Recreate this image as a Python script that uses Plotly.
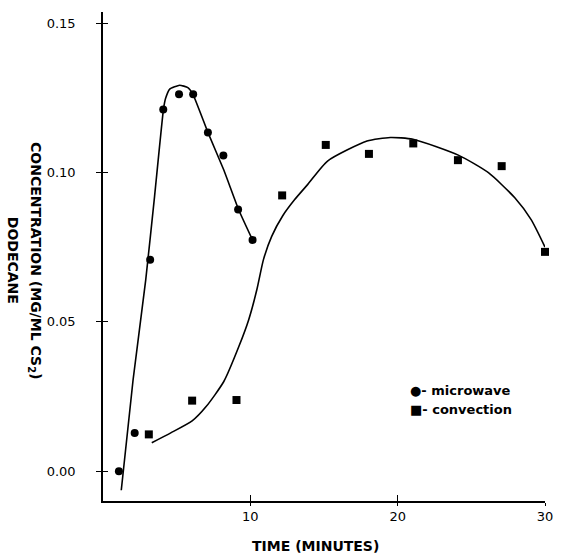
import plotly.graph_objects as go

# Measured data points
micro_time = [1.08, 2.15, 3.2, 4.09, 5.16, 6.12, 7.12, 8.17, 9.17, 10.15]
micro_conc = [0.000, 0.0128, 0.0708, 0.1211, 0.1262, 0.1262, 0.1134, 0.1057, 0.0876, 0.0774]

conv_time = [3.11, 6.05, 9.06, 12.16, 15.12, 18.05, 21.06, 24.09, 27.06, 30.0]
conv_conc = [0.0123, 0.0236, 0.0238, 0.0923, 0.1092, 0.1062, 0.1097, 0.1041, 0.1021, 0.0734]

# Hand-drawn fitted curves
micro_curve_t = [1.24, 2.04, 2.9, 3.5, 4.1, 4.25, 4.53, 5.2, 5.76, 6.1, 7.12, 8.2, 9.2, 10.15]
micro_curve_c = [-0.0064, 0.0305, 0.064, 0.092, 0.121, 0.1248, 0.1279, 0.1292, 0.1284, 0.1262,
                 0.1134, 0.1008, 0.0876, 0.0774]

conv_curve_t = [3.31, 4.6, 6.05, 7.0, 8.2, 9.22, 9.89, 10.44, 10.89, 11.45, 12.2, 13.01, 13.9, 15.24,
                17.92, 19.5, 21.04, 24.15, 26.16, 27.95, 29.06, 30.0]
conv_curve_c = [0.0095, 0.0128, 0.0168, 0.0216, 0.030, 0.0417, 0.0507, 0.0607, 0.0708, 0.0786,
                0.0855, 0.0909, 0.096, 0.1038, 0.1105, 0.1117, 0.1111, 0.1057, 0.0999, 0.0915,
                0.0842, 0.0750]

y_ticks = [0.0, 0.05, 0.10, 0.15]
y_tick_text = ["0.00", "0.05", "0.10", "0.15"]
x_ticks = [10, 20, 30]
x_tick_text = ["10", "20", "30"]

x_range = [0, 30]
y_range = [-0.0100, 0.1537]

fig = go.Figure()
fig.add_trace(go.Scatter(x=micro_curve_t, y=micro_curve_c, mode="lines",
                         line=dict(color="black", width=1.6, shape="spline", smoothing=0.4),
                         hoverinfo="skip", showlegend=False))
fig.add_trace(go.Scatter(x=conv_curve_t, y=conv_curve_c, mode="lines",
                         line=dict(color="black", width=1.6, shape="spline", smoothing=0.6),
                         hoverinfo="skip", showlegend=False, cliponaxis=False))
fig.add_trace(go.Scatter(x=micro_time, y=micro_conc, mode="markers", name="microwave",
                         marker=dict(symbol="circle", size=8, color="black"), showlegend=False,
                         cliponaxis=False))
fig.add_trace(go.Scatter(x=conv_time, y=conv_conc, mode="markers", name="convection",
                         marker=dict(symbol="square", size=8, color="black"), showlegend=False,
                         cliponaxis=False))

tick_font = dict(family="DejaVu Sans", size=13, color="black")

fig.update_layout(
    width=565, height=554,
    margin=dict(l=103, r=14, t=12, b=53),
    paper_bgcolor="white", plot_bgcolor="white",
    xaxis=dict(range=x_range, showgrid=False, zeroline=False, showline=True,
               linecolor="black", linewidth=1.6, ticks="outside", ticklen=3, tickwidth=1.4,
               tickcolor="black", tickvals=x_ticks, ticktext=x_tick_text,
               tickfont=tick_font, ticklabelstandoff=0),
    yaxis=dict(range=y_range, showgrid=False, zeroline=False, showline=True,
               linecolor="black", linewidth=1.6, ticks="outside", ticklen=5, tickwidth=1.4,
               tickcolor="black", tickvals=y_ticks, ticktext=y_tick_text,
               tickfont=tick_font, ticklabelstandoff=18),
    xaxis2=dict(range=x_range, overlaying="x", anchor="y", side="bottom", showgrid=False,
                zeroline=False, showline=False, ticks="inside", ticklen=6, tickwidth=1.4,
                tickcolor="black", tickvals=x_ticks, showticklabels=False),
    yaxis2=dict(range=y_range, overlaying="y", anchor="x", side="left", showgrid=False,
                zeroline=False, showline=False, ticks="inside", ticklen=5, tickwidth=1.4,
                tickcolor="black", tickvals=y_ticks, showticklabels=False),
    font=dict(family="DejaVu Sans", color="black"),
)

# invisible trace so the overlay axes are drawn
fig.add_trace(go.Scatter(x=[None], y=[None], xaxis="x2", yaxis="y2", showlegend=False,
                         hoverinfo="skip"))

plot_l, plot_r, plot_t, plot_b = 103, 551, 12, 501
def px_x(px):
    return (px - plot_l) / (plot_r - plot_l)
def px_y(py):
    return (plot_b - py) / (plot_b - plot_t)

fig.add_annotation(text="<b>CONCENTRATION (MG/ML CS<sub>2</sub>)</b>", textangle=90,
                   xref="paper", yref="paper", x=px_x(34), y=px_y(261),
                   xanchor="center", yanchor="middle", showarrow=False,
                   font=dict(family="DejaVu Sans", size=14, color="black"))
fig.add_annotation(text="<b>DODECANE</b>", textangle=90,
                   xref="paper", yref="paper", x=px_x(12), y=px_y(260),
                   xanchor="center", yanchor="middle", showarrow=False,
                   font=dict(family="DejaVu Sans", size=14, color="black"))
fig.add_annotation(text="<b>TIME (MINUTES)</b>",
                   xref="paper", yref="paper", x=px_x(318), y=px_y(546),
                   xanchor="center", yanchor="middle", showarrow=False,
                   font=dict(family="DejaVu Sans", size=14, color="black"))

legend_font = dict(family="DejaVu Sans", size=13, color="black")
fig.add_annotation(text="<b>●- microwave</b>", xref="paper", yref="paper",
                   x=px_x(412), y=px_y(390), xanchor="left", yanchor="middle",
                   showarrow=False, font=legend_font)
fig.add_annotation(text="<b>■- convection</b>", xref="paper", yref="paper",
                   x=px_x(412), y=px_y(409), xanchor="left", yanchor="middle",
                   showarrow=False, font=legend_font)

fig.write_html("out.html", post_script="document.body.style.margin='0';",
               config={"displayModeBar": False})
